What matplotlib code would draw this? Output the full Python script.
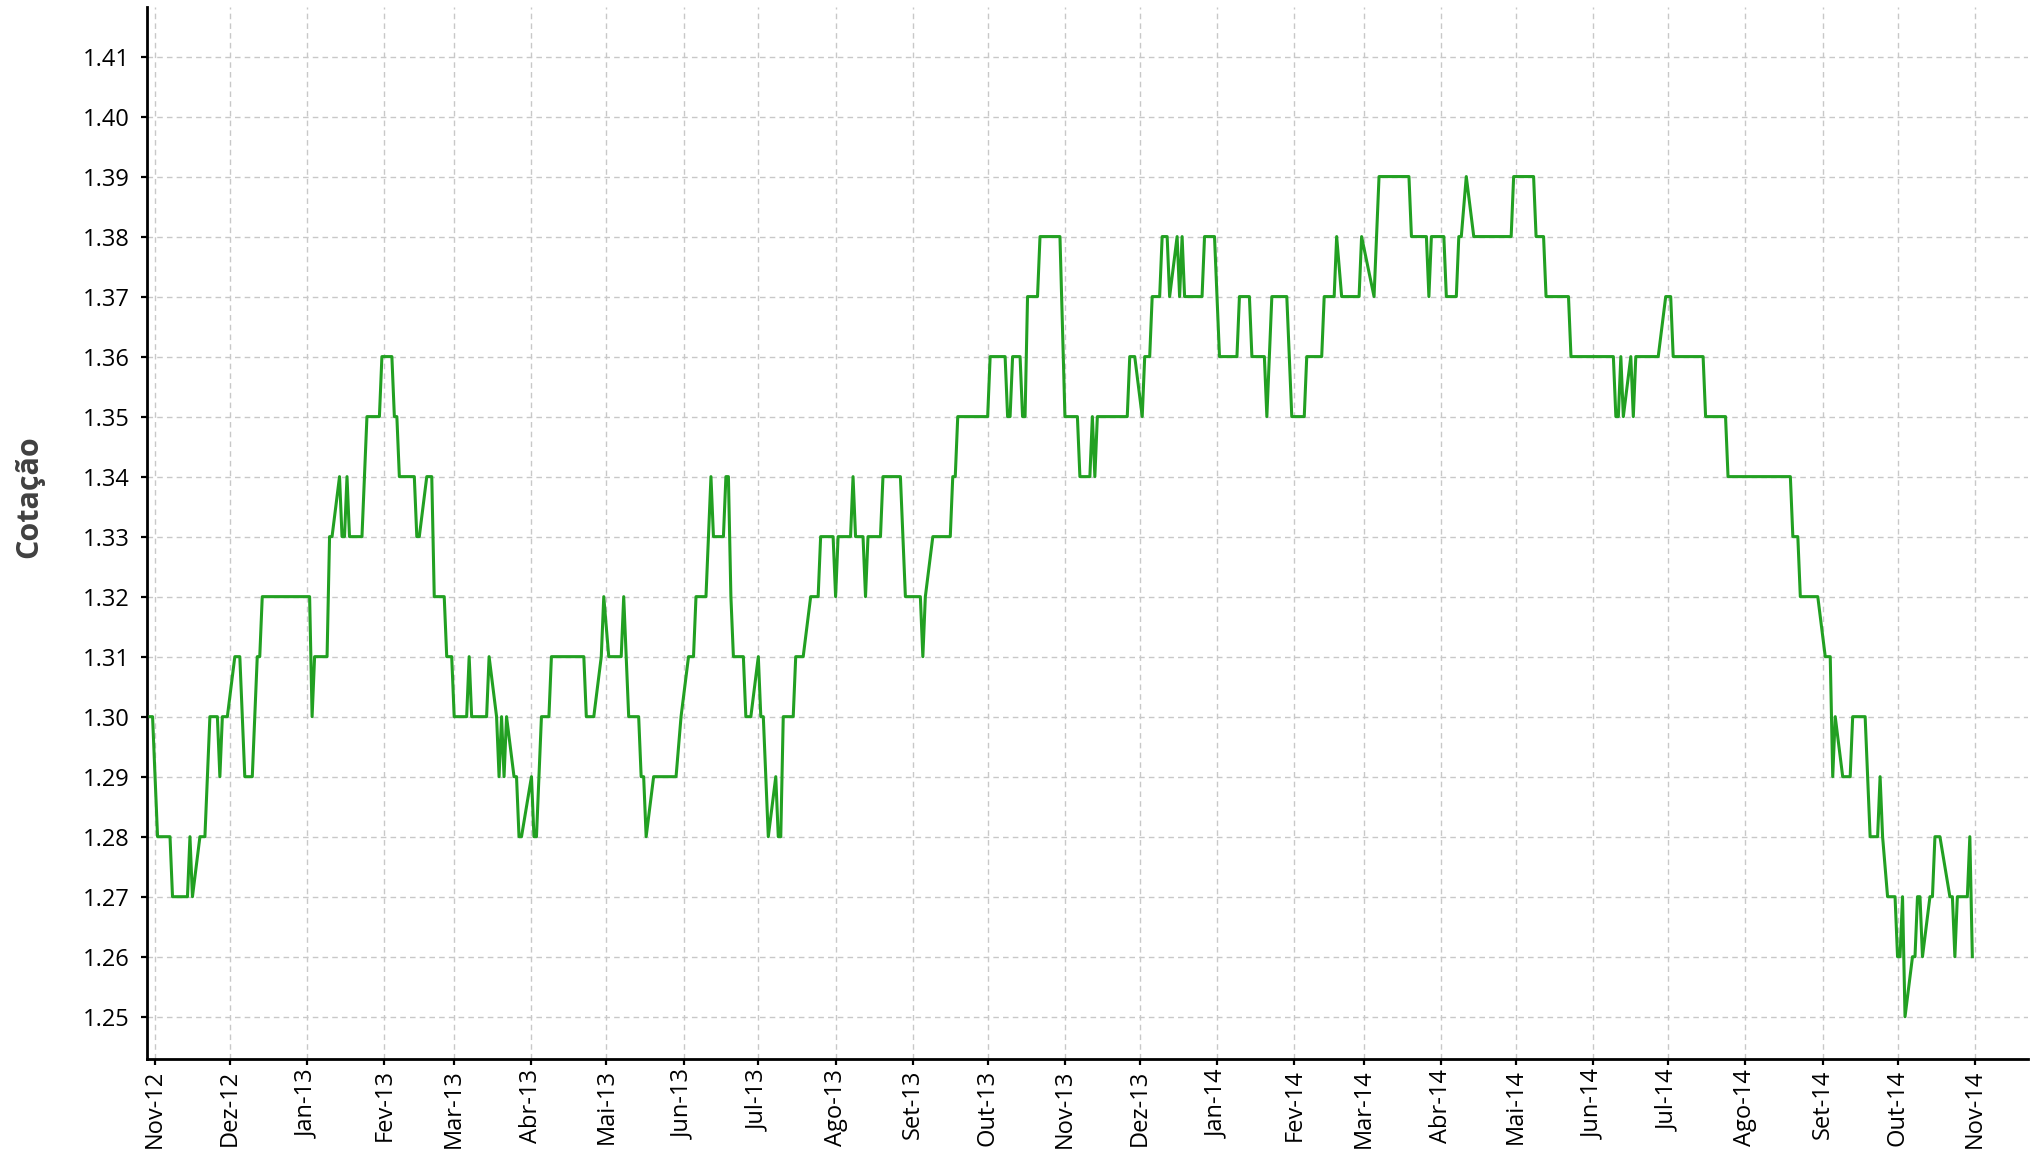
import numpy as np
import matplotlib
matplotlib.use('Agg')
import matplotlib.pyplot as plt
import matplotlib.dates as mdates

plt.rcParams['font.family'] = ['Open Sans', 'DejaVu Sans']

# cotação: dias desde 01/11/2012 e valor nos vértices da linha
inicio = np.datetime64('2012-11-01')
dias = [
    -2, -1, 1, 6, 7, 13, 14, 15, 18, 20, 22, 25, 26, 27, 29, 32, 34, 36, 39, 41,
    42, 43, 62, 63, 64, 69, 70, 71, 74, 75, 76, 77, 78, 83, 85, 90, 91, 95, 96, 97,
    98, 104, 105, 106, 109, 111, 112, 116, 117, 119, 120, 125, 126, 127, 133, 134, 137, 138, 139, 140,
    141, 144, 145, 146, 147, 151, 152, 153, 155, 158, 159, 172, 173, 176, 179, 180, 182, 187, 188, 190,
    194, 195, 196, 197, 200, 209, 211, 214, 216, 217, 221, 223, 224, 228, 229, 230, 231, 232, 236, 237,
    239, 242, 243, 244, 245, 246, 249, 250, 251, 252, 256, 257, 260, 263, 266, 267, 272, 273, 274, 279,
    280, 281, 284, 285, 286, 291, 292, 299, 301, 307, 308, 309, 312, 319, 320, 321, 322, 334, 335, 341,
    342, 343, 344, 347, 348, 349, 350, 354, 355, 363, 365, 370, 371, 375, 376, 377, 378, 390, 391, 393,
    396, 397, 399, 400, 403, 404, 406, 407, 410, 411, 412, 413, 420, 421, 425, 427, 434, 435, 439, 440,
    445, 446, 448, 454, 456, 461, 462, 468, 469, 473, 474, 476, 483, 484, 489, 491, 503, 504, 510, 511,
    512, 517, 518, 522, 523, 524, 526, 529, 544, 545, 553, 554, 557, 558, 567, 568, 585, 586, 587, 588,
    589, 592, 593, 594, 603, 606, 608, 609, 621, 622, 630, 631, 656, 657, 659, 660, 667, 670, 672, 673,
    674, 677, 680, 681, 686, 688, 691, 692, 693, 695, 698, 699, 700, 701, 702, 705, 706, 707, 708, 709,
    712, 713, 714, 716, 720, 721, 722, 723, 727, 728, 729,
]
cotacao = [
    1.30, 1.30, 1.28, 1.28, 1.27, 1.27, 1.28, 1.27, 1.28, 1.28, 1.30, 1.30, 1.29, 1.30, 1.30, 1.31, 1.31, 1.29, 1.29, 1.31,
    1.31, 1.32, 1.32, 1.30, 1.31, 1.31, 1.33, 1.33, 1.34, 1.33, 1.33, 1.34, 1.33, 1.33, 1.35, 1.35, 1.36, 1.36, 1.35, 1.35,
    1.34, 1.34, 1.33, 1.33, 1.34, 1.34, 1.32, 1.32, 1.31, 1.31, 1.30, 1.30, 1.31, 1.30, 1.30, 1.31, 1.30, 1.29, 1.30, 1.29,
    1.30, 1.29, 1.29, 1.28, 1.28, 1.29, 1.28, 1.28, 1.30, 1.30, 1.31, 1.31, 1.30, 1.30, 1.31, 1.32, 1.31, 1.31, 1.32, 1.30,
    1.30, 1.29, 1.29, 1.28, 1.29, 1.29, 1.30, 1.31, 1.31, 1.32, 1.32, 1.34, 1.33, 1.33, 1.34, 1.34, 1.32, 1.31, 1.31, 1.30,
    1.30, 1.31, 1.30, 1.30, 1.29, 1.28, 1.29, 1.28, 1.28, 1.30, 1.30, 1.31, 1.31, 1.32, 1.32, 1.33, 1.33, 1.32, 1.33, 1.33,
    1.34, 1.33, 1.33, 1.32, 1.33, 1.33, 1.34, 1.34, 1.32, 1.32, 1.31, 1.32, 1.33, 1.33, 1.34, 1.34, 1.35, 1.35, 1.36, 1.36,
    1.35, 1.35, 1.36, 1.36, 1.35, 1.35, 1.37, 1.37, 1.38, 1.38, 1.35, 1.35, 1.34, 1.34, 1.35, 1.34, 1.35, 1.35, 1.36, 1.36,
    1.35, 1.36, 1.36, 1.37, 1.37, 1.38, 1.38, 1.37, 1.38, 1.37, 1.38, 1.37, 1.37, 1.38, 1.38, 1.36, 1.36, 1.37, 1.37, 1.36,
    1.36, 1.35, 1.37, 1.37, 1.35, 1.35, 1.36, 1.36, 1.37, 1.37, 1.38, 1.37, 1.37, 1.38, 1.37, 1.39, 1.39, 1.38, 1.38, 1.37,
    1.38, 1.38, 1.37, 1.37, 1.38, 1.38, 1.39, 1.38, 1.38, 1.39, 1.39, 1.38, 1.38, 1.37, 1.37, 1.36, 1.36, 1.35, 1.35, 1.36,
    1.35, 1.36, 1.35, 1.36, 1.36, 1.37, 1.37, 1.36, 1.36, 1.35, 1.35, 1.34, 1.34, 1.33, 1.33, 1.32, 1.32, 1.31, 1.31, 1.29,
    1.30, 1.29, 1.29, 1.30, 1.30, 1.28, 1.28, 1.29, 1.28, 1.27, 1.27, 1.26, 1.26, 1.27, 1.25, 1.26, 1.26, 1.27, 1.27, 1.26,
    1.27, 1.27, 1.28, 1.28, 1.27, 1.27, 1.26, 1.27, 1.27, 1.28, 1.26,
]

meses = ['Jan', 'Fev', 'Mar', 'Abr', 'Mai', 'Jun', 'Jul', 'Ago', 'Set', 'Out', 'Nov', 'Dez']
yticks = np.round(np.arange(1.25, 1.415, 0.01), 2)

datas = inicio + np.array(dias).astype('timedelta64[D]')

fig = plt.figure(figsize=(20.34, 11.52), dpi=100)
ax = fig.add_axes([0.0723, 0.0807, 0.9247, 0.9132])

ax.plot(datas, cotacao, color='#22a022', linewidth=2.2, zorder=3)

# eixos
ax.set_xlim(inicio - np.timedelta64(77, 'h'), inicio + np.timedelta64(751 * 24 + 7, 'h'))
ax.set_ylim(1.24295, 1.41825)
ax.set_yticks(yticks)
ax.yaxis.set_major_formatter(plt.FuncFormatter(lambda v, p: f'{v:.2f}'))
ax.xaxis.set_major_locator(mdates.MonthLocator())
ax.xaxis.set_major_formatter(plt.FuncFormatter(
    lambda v, p: f"{meses[mdates.num2date(v).month - 1]}-{mdates.num2date(v).year % 100:02d}"))
plt.setp(ax.get_xticklabels(), rotation=90)

ax.tick_params(axis='both', labelsize=17, length=4.5, width=1.6, colors='black')
ax.tick_params(axis='x', pad=3)
ax.tick_params(axis='y', pad=8)
ax.grid(True, color='#c8c8c8', linestyle=(0, (4, 3)), linewidth=1.0)
ax.set_axisbelow(True)

for s in ['top', 'right']:
    ax.spines[s].set_visible(False)
for s in ['left', 'bottom']:
    ax.spines[s].set_linewidth(2.0)

ax.set_ylabel('Cotação', fontsize=22, fontweight='bold', color='#404040')
ax.yaxis.set_label_coords(-0.0548, 0.535)

fig.savefig('out.png', dpi=100)
